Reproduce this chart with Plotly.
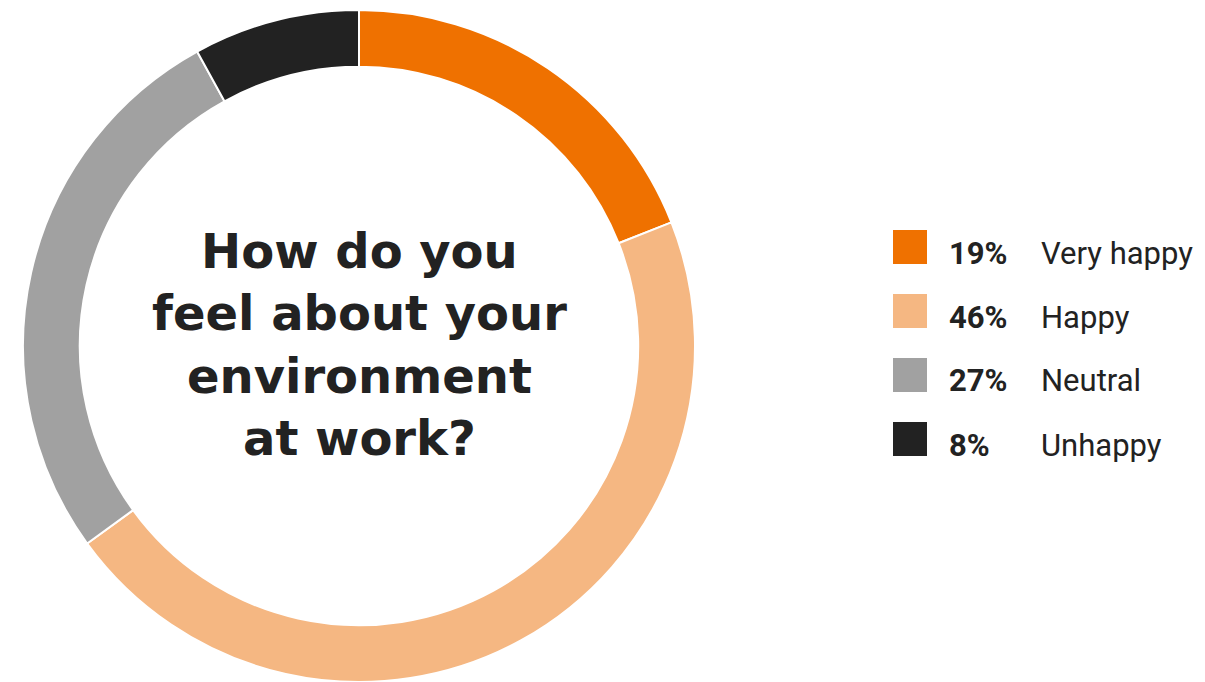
import plotly.graph_objects as go

# Survey answers, in ring order (clockwise from 12 o'clock)
categories = ["Very happy", "Happy", "Neutral", "Unhappy"]
shares = [19, 46, 27, 8]
colors = ["#EF7100", "#F5B782", "#A1A1A1", "#222222"]

question = "How do you<br>feel about your<br>environment<br>at work?"

W, H = 1205, 682
TEXT = "#222222"

fig = go.Figure(
    go.Pie(
        labels=categories,
        values=shares,
        hole=0.831,
        sort=False,
        direction="clockwise",
        rotation=0,
        marker=dict(colors=colors, line=dict(color="white", width=2)),
        textinfo="none",
        hoverinfo="label+percent",
        showlegend=False,
        domain=dict(x=[23 / W, 695 / W], y=[0, 1 - 10 / H]),
    )
)

# Question in the centre of the ring
fig.add_annotation(
    x=359 / W, y=1 - 344 / H, xref="paper", yref="paper",
    xanchor="center", yanchor="middle",
    text=f"<b>{question}</b>", showarrow=False, align="center",
    font=dict(family="DejaVu Sans", size=48, color=TEXT),
)

# Side key: swatch, bold share, category name
row0, step, sw = 230, 64, 34
for i, (cat, val, col) in enumerate(zip(categories, shares, colors)):
    top = row0 + i * step
    fig.add_shape(
        type="rect", xref="paper", yref="paper",
        x0=893 / W, x1=(893 + sw) / W,
        y0=1 - (top + sw) / H, y1=1 - top / H,
        fillcolor=col, line=dict(width=0),
    )
    yc = 1 - (top + 23) / H
    fig.add_annotation(
        x=947 / W, y=yc, xref="paper", yref="paper",
        text=f"<b>{val}%</b>", showarrow=False,
        xanchor="left", yanchor="middle",
        font=dict(family="Roboto", size=31, color=TEXT),
    )
    fig.add_annotation(
        x=1039 / W, y=yc, xref="paper", yref="paper",
        text=cat, showarrow=False,
        xanchor="left", yanchor="middle",
        font=dict(family="Roboto", size=31, color=TEXT),
    )

fig.update_layout(
    width=W, height=H,
    margin=dict(l=0, r=0, t=0, b=0),
    paper_bgcolor="white", plot_bgcolor="white",
)

fig.write_html("out.html")
